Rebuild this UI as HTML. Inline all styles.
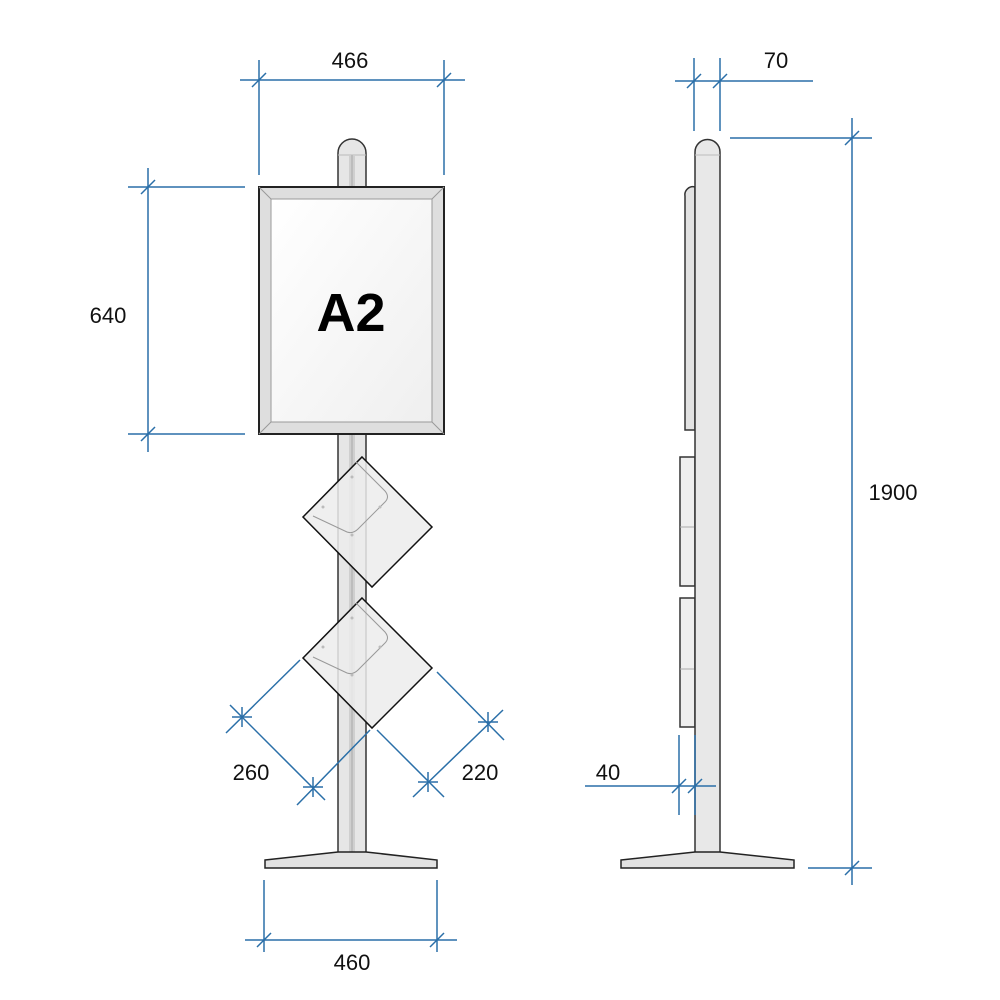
<!DOCTYPE html>
<html><head><meta charset="utf-8"><style>
html,body{margin:0;padding:0;background:#fff;}
svg{display:block;}
text{font-family:"Liberation Sans",sans-serif;font-size:22px;fill:#111;}
</style></head><body>
<svg width="1000" height="1000" viewBox="0 0 1000 1000" xmlns="http://www.w3.org/2000/svg">
<defs>
<linearGradient id="fg" x1="0" y1="0" x2="1" y2="1"><stop offset="0" stop-color="#ffffff"/><stop offset="1" stop-color="#efefef"/></linearGradient>
</defs>
<!-- FRONT VIEW -->
<!-- pole -->
<path d="M338,855 L338,153 A14,14 0 0 1 366,153 L366,855 Z" fill="#e6e6e6" stroke="#333" stroke-width="1.5"/>
<line x1="338" y1="155" x2="366" y2="155" stroke="#bbb" stroke-width="1"/>
<rect x="349" y="155" width="6" height="700" fill="#cfcfcf"/>
<line x1="352" y1="155" x2="352" y2="855" stroke="#aaa" stroke-width="1"/>
<!-- frame -->
<rect x="259" y="187" width="185" height="247" fill="#dedede" stroke="#222" stroke-width="2"/>
<rect x="271" y="199" width="161" height="223" fill="url(#fg)" stroke="#999" stroke-width="1"/>
<line x1="259" y1="187" x2="271" y2="199" stroke="#999"/><line x1="444" y1="187" x2="432" y2="199" stroke="#999"/>
<line x1="259" y1="434" x2="271" y2="422" stroke="#999"/><line x1="444" y1="434" x2="432" y2="422" stroke="#999"/>
<text x="351" y="331" text-anchor="middle" style="font-size:54px;font-weight:bold;fill:#000">A2</text>
<!-- brochure holders -->
<g>
<polygon points="362,457 432,527 372,587 303,517" fill="#ececec" fill-opacity="0.85" stroke="#111" stroke-width="1.5"/>
<path d="M356,462 L385,491 Q390,497 385,502 L358,529 Q353,534 347,532 L313,516" fill="none" stroke="#999" stroke-width="1"/>
<circle cx="352" cy="477" r="1.5" fill="#bbb"/><circle cx="323" cy="507" r="1.5" fill="#bbb"/><circle cx="380" cy="507" r="1.5" fill="#bbb"/><circle cx="352" cy="535" r="1.5" fill="#bbb"/>
</g>
<g>
<polygon points="362,598 432,668 372,728 303,658" fill="#ececec" fill-opacity="0.85" stroke="#111" stroke-width="1.5"/>
<path d="M356,603 L385,632 Q390,638 385,643 L358,670 Q353,675 347,673 L313,657" fill="none" stroke="#999" stroke-width="1"/>
<circle cx="352" cy="618" r="1.5" fill="#bbb"/><circle cx="323" cy="647" r="1.5" fill="#bbb"/><circle cx="380" cy="647" r="1.5" fill="#bbb"/><circle cx="352" cy="675" r="1.5" fill="#bbb"/>
</g>
<!-- base -->
<path d="M265,860 L338,852 L366,852 L437,860 L437,868 L265,868 Z" fill="#e2e2e2" stroke="#222" stroke-width="1.5"/>

<!-- SIDE VIEW -->
<path d="M685,430 L685,196 A8,8 0 0 1 695,187 L695,430 Z" fill="#e2e2e2" stroke="#333" stroke-width="1.5"/>
<rect x="680" y="457" width="15" height="129" fill="#eeeeee" stroke="#333" stroke-width="1.5"/>
<line x1="680" y1="527" x2="695" y2="527" stroke="#aaa"/>
<rect x="680" y="598" width="15" height="129" fill="#eeeeee" stroke="#333" stroke-width="1.5"/>
<line x1="680" y1="669" x2="695" y2="669" stroke="#aaa"/>
<path d="M695,855 L695,152 A12.5,12.5 0 0 1 720,152 L720,855 Z" fill="#e8e8e8" stroke="#333" stroke-width="1.5"/>
<line x1="695" y1="155" x2="720" y2="155" stroke="#bbb"/>
<path d="M621,860 L695,852 L720,852 L794,860 L794,868 L621,868 Z" fill="#e2e2e2" stroke="#222" stroke-width="1.5"/>

<!-- DIMENSIONS -->
<g stroke="#2a6fa8" stroke-width="1.5" fill="none">
<!-- 466 -->
<line x1="240" y1="80" x2="465" y2="80"/><line x1="259" y1="60" x2="259" y2="175"/><line x1="444" y1="60" x2="444" y2="175"/>
<line x1="252" y1="87" x2="266" y2="73"/><line x1="437" y1="87" x2="451" y2="73"/>
<!-- 640 -->
<line x1="148" y1="168" x2="148" y2="452"/><line x1="128" y1="187" x2="245" y2="187"/><line x1="128" y1="434" x2="245" y2="434"/>
<line x1="141" y1="194" x2="155" y2="180"/><line x1="141" y1="441" x2="155" y2="427"/>
<!-- 260 -->
<line x1="300" y1="660" x2="226" y2="733"/><line x1="370" y1="730" x2="297" y2="805"/>
<line x1="230" y1="705" x2="325" y2="800"/>
<line x1="232" y1="717" x2="252" y2="717"/><line x1="242" y1="707" x2="242" y2="727"/>
<line x1="303" y1="787" x2="323" y2="787"/><line x1="313" y1="777" x2="313" y2="797"/>
<!-- 220 -->
<line x1="437" y1="672" x2="504" y2="740"/><line x1="377" y1="730" x2="444" y2="797"/>
<line x1="413" y1="797" x2="503" y2="710"/>
<line x1="478" y1="722" x2="498" y2="722"/><line x1="488" y1="712" x2="488" y2="732"/>
<line x1="418" y1="782" x2="438" y2="782"/><line x1="428" y1="772" x2="428" y2="792"/>
<!-- 460 -->
<line x1="245" y1="940" x2="457" y2="940"/><line x1="264" y1="880" x2="264" y2="952"/><line x1="437" y1="880" x2="437" y2="952"/>
<line x1="257" y1="947" x2="271" y2="933"/><line x1="430" y1="947" x2="444" y2="933"/>
<!-- 70 -->
<line x1="675" y1="81" x2="813" y2="81"/><line x1="694" y1="58" x2="694" y2="131"/><line x1="720" y1="58" x2="720" y2="131"/>
<line x1="687" y1="88" x2="701" y2="74"/><line x1="713" y1="88" x2="727" y2="74"/>
<!-- 1900 -->
<line x1="852" y1="118" x2="852" y2="885"/><line x1="730" y1="138" x2="872" y2="138"/><line x1="808" y1="868" x2="872" y2="868"/>
<line x1="845" y1="145" x2="859" y2="131"/><line x1="845" y1="875" x2="859" y2="861"/>
<!-- 40 -->
<line x1="585" y1="786" x2="716" y2="786"/><line x1="679" y1="735" x2="679" y2="815"/><line x1="695" y1="735" x2="695" y2="815"/>
<line x1="672" y1="793" x2="686" y2="779"/><line x1="688" y1="793" x2="702" y2="779"/>
</g>
<text x="350" y="68" text-anchor="middle">466</text>
<text x="108" y="323" text-anchor="middle">640</text>
<text x="251" y="780" text-anchor="middle">260</text>
<text x="480" y="780" text-anchor="middle">220</text>
<text x="352" y="970" text-anchor="middle">460</text>
<text x="776" y="68" text-anchor="middle">70</text>
<text x="893" y="500" text-anchor="middle">1900</text>
<text x="608" y="780" text-anchor="middle">40</text>
</svg>
</body></html>
